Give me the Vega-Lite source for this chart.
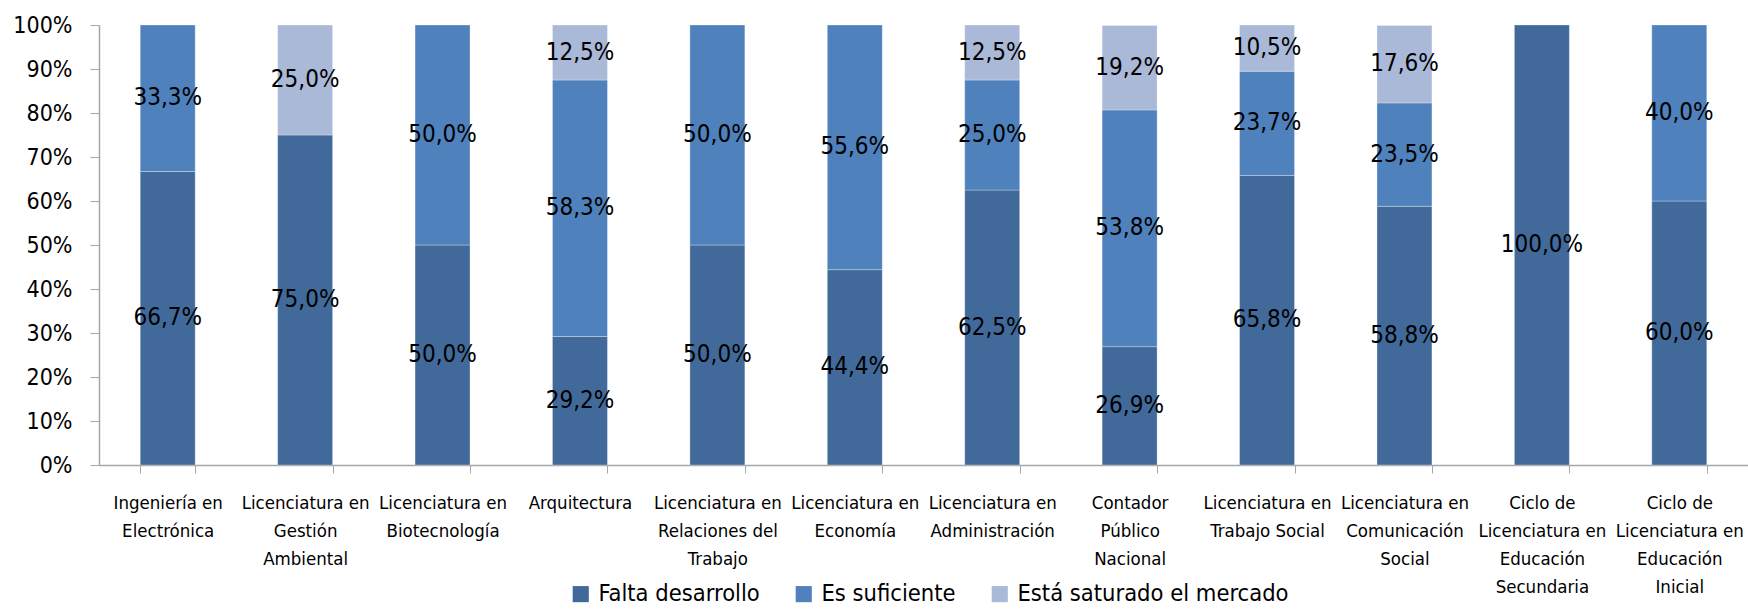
{
  "$schema": "https://vega.github.io/schema/vega-lite/v6.json",
  "width": 1649,
  "height": 440,
  "autosize": {"type": "none"},
  "padding": {"left": 99, "top": 25, "right": 0, "bottom": 145},
  "background": "white",
  "config": {
    "font": "DejaVu Sans Condensed, Liberation Sans, sans-serif",
    "view": {"stroke": null}
  },
  "data": {
    "values": [
      {"carrera": "Ingeniería en|Electrónica", "serie": "Falta desarrollo", "orden": 1, "valor": 66.7, "etiqueta": "66,7%"},
      {"carrera": "Ingeniería en|Electrónica", "serie": "Es suficiente", "orden": 2, "valor": 33.3, "etiqueta": "33,3%"},
      {"carrera": "Licenciatura en|Gestión|Ambiental", "serie": "Falta desarrollo", "orden": 1, "valor": 75.0, "etiqueta": "75,0%"},
      {"carrera": "Licenciatura en|Gestión|Ambiental", "serie": "Está saturado el mercado", "orden": 3, "valor": 25.0, "etiqueta": "25,0%"},
      {"carrera": "Licenciatura en|Biotecnología", "serie": "Falta desarrollo", "orden": 1, "valor": 50.0, "etiqueta": "50,0%"},
      {"carrera": "Licenciatura en|Biotecnología", "serie": "Es suficiente", "orden": 2, "valor": 50.0, "etiqueta": "50,0%"},
      {"carrera": "Arquitectura", "serie": "Falta desarrollo", "orden": 1, "valor": 29.2, "etiqueta": "29,2%"},
      {"carrera": "Arquitectura", "serie": "Es suficiente", "orden": 2, "valor": 58.3, "etiqueta": "58,3%"},
      {"carrera": "Arquitectura", "serie": "Está saturado el mercado", "orden": 3, "valor": 12.5, "etiqueta": "12,5%"},
      {"carrera": "Licenciatura en|Relaciones del|Trabajo", "serie": "Falta desarrollo", "orden": 1, "valor": 50.0, "etiqueta": "50,0%"},
      {"carrera": "Licenciatura en|Relaciones del|Trabajo", "serie": "Es suficiente", "orden": 2, "valor": 50.0, "etiqueta": "50,0%"},
      {"carrera": "Licenciatura en|Economía", "serie": "Falta desarrollo", "orden": 1, "valor": 44.4, "etiqueta": "44,4%"},
      {"carrera": "Licenciatura en|Economía", "serie": "Es suficiente", "orden": 2, "valor": 55.6, "etiqueta": "55,6%"},
      {"carrera": "Licenciatura en|Administración", "serie": "Falta desarrollo", "orden": 1, "valor": 62.5, "etiqueta": "62,5%"},
      {"carrera": "Licenciatura en|Administración", "serie": "Es suficiente", "orden": 2, "valor": 25.0, "etiqueta": "25,0%"},
      {"carrera": "Licenciatura en|Administración", "serie": "Está saturado el mercado", "orden": 3, "valor": 12.5, "etiqueta": "12,5%"},
      {"carrera": "Contador|Público|Nacional", "serie": "Falta desarrollo", "orden": 1, "valor": 26.9, "etiqueta": "26,9%"},
      {"carrera": "Contador|Público|Nacional", "serie": "Es suficiente", "orden": 2, "valor": 53.8, "etiqueta": "53,8%"},
      {"carrera": "Contador|Público|Nacional", "serie": "Está saturado el mercado", "orden": 3, "valor": 19.2, "etiqueta": "19,2%"},
      {"carrera": "Licenciatura en|Trabajo Social", "serie": "Falta desarrollo", "orden": 1, "valor": 65.8, "etiqueta": "65,8%"},
      {"carrera": "Licenciatura en|Trabajo Social", "serie": "Es suficiente", "orden": 2, "valor": 23.7, "etiqueta": "23,7%"},
      {"carrera": "Licenciatura en|Trabajo Social", "serie": "Está saturado el mercado", "orden": 3, "valor": 10.5, "etiqueta": "10,5%"},
      {"carrera": "Licenciatura en|Comunicación|Social", "serie": "Falta desarrollo", "orden": 1, "valor": 58.8, "etiqueta": "58,8%"},
      {"carrera": "Licenciatura en|Comunicación|Social", "serie": "Es suficiente", "orden": 2, "valor": 23.5, "etiqueta": "23,5%"},
      {"carrera": "Licenciatura en|Comunicación|Social", "serie": "Está saturado el mercado", "orden": 3, "valor": 17.6, "etiqueta": "17,6%"},
      {"carrera": "Ciclo de|Licenciatura en|Educación|Secundaria", "serie": "Falta desarrollo", "orden": 1, "valor": 100.0, "etiqueta": "100,0%"},
      {"carrera": "Ciclo de|Licenciatura en|Educación|Inicial", "serie": "Falta desarrollo", "orden": 1, "valor": 60.0, "etiqueta": "60,0%"},
      {"carrera": "Ciclo de|Licenciatura en|Educación|Inicial", "serie": "Es suficiente", "orden": 2, "valor": 40.0, "etiqueta": "40,0%"}
    ]
  },
  "transform": [
    {"stack": "valor", "groupby": ["carrera"], "sort": [{"field": "orden"}], "as": ["v0", "v1"]}
  ],
  "encoding": {
    "x": {
      "field": "carrera",
      "type": "nominal",
      "sort": null,
      "scale": {"paddingInner": 0.6, "paddingOuter": 0.3},
      "axis": {
        "title": null,
        "labelAngle": 0,
        "labelExpr": "split(datum.label, '|')",
        "labelFontSize": 18.5,
        "labelLineHeight": 28,
        "labelColor": "#000000",
        "labelPadding": 20,
        "labelLimit": 200,
        "tickBand": "extent",
        "tickSize": 8,
        "tickColor": "#A6A6A6",
        "domainColor": "#A6A6A6",
        "domainWidth": 1.5,
        "labelBaseline": "top"
      }
    }
  },
  "layer": [
    {
      "mark": {"type": "bar", "stroke": "#ffffff", "strokeWidth": 0.6, "strokeOpacity": 0.5},
      "encoding": {
        "y": {
          "field": "v0",
          "type": "quantitative",
          "scale": {"domain": [0, 100], "nice": false},
          "axis": {
            "title": null,
            "values": [0, 10, 20, 30, 40, 50, 60, 70, 80, 90, 100],
            "labelExpr": "datum.value + '%'",
            "labelFontSize": 23,
            "labelColor": "#000000",
            "labelPadding": 18,
            "tickSize": 9,
            "tickColor": "#A6A6A6",
            "domainColor": "#A6A6A6",
            "domainWidth": 1.5,
            "grid": false
          }
        },
        "y2": {"field": "v1"},
        "color": {
          "field": "serie",
          "type": "nominal",
          "scale": {
            "domain": ["Falta desarrollo", "Es suficiente", "Está saturado el mercado"],
            "range": ["#416A9B", "#4F81BD", "#AAB9D8"]
          },
          "legend": {
            "title": null,
            "orient": "none",
            "direction": "horizontal",
            "legendX": 470,
            "legendY": 557,
            "symbolType": "square",
            "symbolSize": 260,
            "symbolStrokeWidth": 0,
            "labelFontSize": 23.5,
            "labelColor": "#000000",
            "labelOffset": 6,
            "columnPadding": 32,
            "labelLimit": 400
          }
        }
      }
    },
    {
      "transform": [{"calculate": "(datum.v0 + datum.v1) / 2", "as": "medio"}],
      "mark": {"type": "text", "fontSize": 24, "color": "#000000", "baseline": "middle"},
      "encoding": {
        "y": {"field": "medio", "type": "quantitative"},
        "text": {"field": "etiqueta"}
      }
    }
  ]
}
